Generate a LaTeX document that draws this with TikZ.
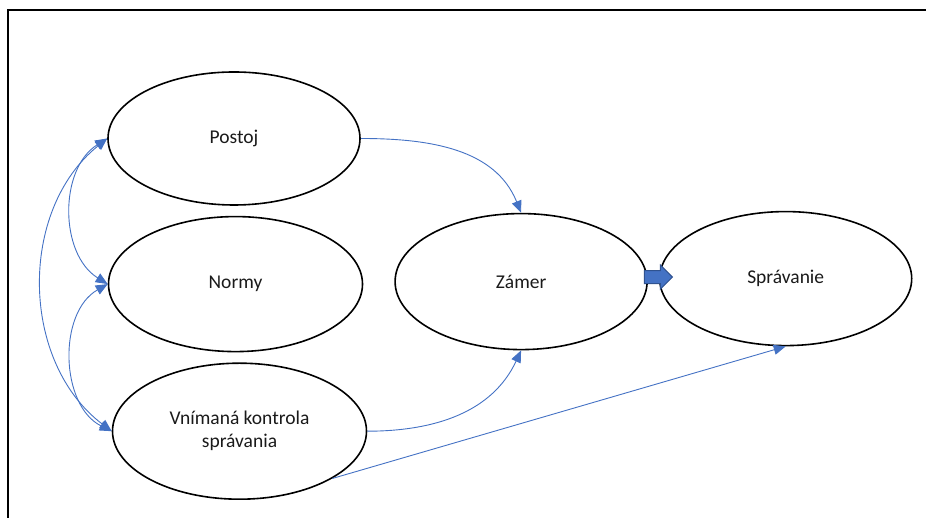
\documentclass[tikz,border=0pt]{standalone}
\usepackage{fontspec}
\setmainfont{Carlito}
\usetikzlibrary{positioning, arrows.meta, calc, shapes.geometric, shapes.arrows}
\definecolor{linkblue}{HTML}{4472C4}
\definecolor{arrowedge}{HTML}{2F528F}
\definecolor{textgray}{HTML}{1A1A1A}

\begin{document}
\begin{tikzpicture}[
    x=1pt, y=1pt,
    >={Triangle[length=12pt, width=10pt]},
    font=\fontsize{19.5}{23}\selectfont,
    text=textgray,
    node distance=10pt and 31pt,
    construct/.style={
        ellipse, draw=black, line width=1.6pt,
        minimum width=252pt, minimum height=134pt,
        inner sep=0pt, align=center,
    },
    link/.style={
        ->, color=linkblue, line width=0.9pt,
    },
    corr/.style={
        <->, color=linkblue, line width=0.9pt,
    },
    blockarrow/.style={
        single arrow, single arrow head extend=5.5pt,
        fill=linkblue, draw=arrowedge, line width=1pt,
        inner xsep=0pt, inner ysep=6pt, minimum height=28pt,
    },
]
\useasboundingbox (0,0) rectangle (926,518);

% Frame (cut off at the right and bottom)
\draw[line width=2pt] (8,0) -- (8,508) -- (926,508);

% Constructs (left column)
\node[construct, minimum height=133pt] (postoj) at (234,379.5) {Postoj};
\node[construct, minimum width=254pt, minimum height=135pt,
      below=10pt of postoj, xshift=1.5pt] (normy) {Normy};
\node[construct, minimum width=254pt, minimum height=136pt,
      below=10pt of normy, xshift=4pt] (vnim)
    {Vnímaná kontrola\\správania};

% Intention and behaviour
\node[construct, minimum height=136pt,
      right=31pt of normy, yshift=2.5pt] (zamer) {Zámer};
\node[construct, right=11pt of zamer, yshift=3pt] (sprav) {Správanie};

% Correlations
\draw[corr] (postoj.west) to[bend right=58] (normy.west);
\draw[corr] (normy.west) to[bend right=62] (vnim.west);
\draw[corr] (postoj.west) to[bend right=52] (vnim.west);

% Paths
\draw[link] (postoj.east) to[out=0, in=112] (zamer.north);
\draw[link] (vnim.east) to[out=0, in=-115] (zamer.south);
\draw[link] (vnim.-27) -- (sprav.south);

% Block arrow between intention and behaviour
\node[blockarrow, anchor=tail] (dalej) at ([xshift=-4pt, yshift=4.5pt]zamer.east) {};

\end{tikzpicture}
\end{document}
